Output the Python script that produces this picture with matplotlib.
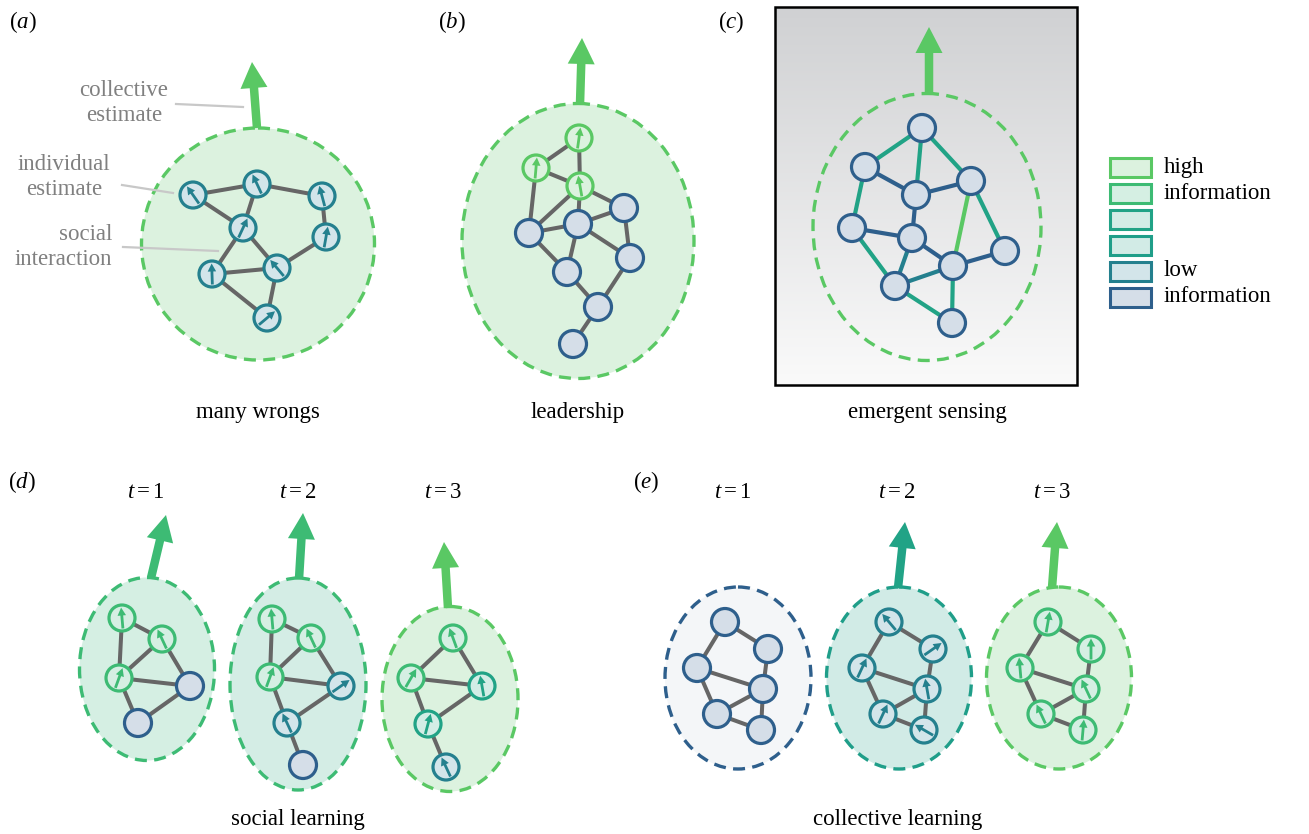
import numpy as np
import matplotlib
matplotlib.use('Agg')
import matplotlib.pyplot as plt
from matplotlib.patches import Ellipse, FancyArrow, Rectangle, Circle
from matplotlib.colors import LinearSegmentedColormap

plt.rcParams['font.family'] = 'Liberation Serif'
plt.rcParams['mathtext.fontset'] = 'custom'
plt.rcParams['mathtext.rm'] = 'Liberation Serif'
plt.rcParams['mathtext.it'] = 'Liberation Serif:italic'

# colours (information level, high -> low)
HI = '#5ac864'
GR = '#3dbb74'
TG = '#21a386'
TE = '#1f9e89'
TB = '#24808e'
BL = '#2e5f8c'
FILL = {HI: '#dcf2df', GR: '#d5efe3', TG: '#d3ede6', TE: '#d2ebe6',
        TB: '#d3e5ea', BL: '#d5dee8'}
EDGE_GREY = '#666666'

# ---- panel (a) many wrongs
a_nodes = [(193, 195), (257, 184), (322, 196), (243, 228), (326, 237),
           (212, 274), (277, 268), (267, 318)]
a_edges = [(0, 1), (1, 2), (0, 3), (1, 3), (2, 4), (3, 5), (3, 6), (5, 6),
           (4, 6), (5, 7), (6, 7)]
a_dirs = [125, 115, 105, 65, 80, 92, 130, 40]
a_cols = [TB] * 8

# ---- panel (b) leadership
b_nodes = [(579, 138), (536, 168), (580, 186), (624, 208), (529, 233),
           (578, 224), (630, 258), (567, 272), (598, 307), (573, 344)]
b_edges = [(0, 1), (0, 2), (1, 2), (1, 4), (2, 4), (2, 5), (2, 3), (4, 5),
           (5, 3), (3, 6), (5, 6), (4, 7), (5, 7), (7, 8), (6, 8), (8, 9)]
b_dirs = [82, 85, 100, None, None, None, None, None, None, None]
b_cols = [HI, HI, HI] + [BL] * 7

# ---- panel (c) emergent sensing
c_nodes = [(922, 128), (865, 167), (971, 181), (916, 195), (852, 228),
           (912, 238), (1005, 251), (953, 266), (895, 286), (952, 323)]
c_edges = [(0, 1), (0, 3), (0, 2), (1, 3), (3, 2), (1, 4), (3, 5), (2, 7),
           (2, 6), (4, 5), (4, 8), (5, 8), (5, 7), (7, 6), (8, 7), (8, 9),
           (7, 9)]
c_edge_cols = [TG, TG, TG, BL, BL, TG, BL, HI, TG, BL, TG, TB, BL, BL, TB,
               TG, TG]

# ---- panel (d) social learning, three time steps
d_nodes = [[(122, 618), (162, 639), (119, 678), (190, 686), (138, 723)],
           [(272, 619), (311, 638), (270, 677), (341, 686), (287, 723),
            (303, 765)],
           [(453, 638), (411, 678), (482, 686), (428, 724), (446, 767)]]
d_edges = [[(0, 1), (0, 2), (1, 2), (2, 3), (1, 3), (2, 4), (3, 4)],
           [(0, 1), (0, 2), (1, 2), (1, 3), (2, 3), (2, 4), (3, 4), (4, 5)],
           [(0, 1), (0, 2), (1, 2), (1, 3), (2, 3), (3, 4)]]
d_dirs = [[95, 115, 70, None, None],
          [95, 115, 70, 35, 115, None],
          [110, 60, 100, 75, 115]]
d_cols = [[GR, GR, GR, BL, BL],
          [GR, GR, GR, TB, TB, BL],
          [GR, GR, TG, TG, TB]]

# ---- panel (e) collective learning, same network at three time steps
e_nodes = [[(725, 622), (768, 649), (697, 668), (763, 689), (717, 714),
            (761, 730)],
           [(889, 622), (933, 649), (862, 668), (927, 689), (883, 714),
            (924, 730)],
           [(1048, 622), (1091, 649), (1020, 668), (1086, 689), (1041, 714),
            (1083, 730)]]
e_edges = [(0, 1), (0, 2), (1, 3), (2, 3), (2, 4), (4, 3), (4, 5), (3, 5)]
e_dirs = [[None] * 6,
          [130, 35, 65, 100, 65, 150],
          [80, 90, 95, 115, 115, 85]]
e_cols = [[BL] * 6, [TB] * 6, [GR] * 6]

# ---- group outlines: centre, width, height, edge colour, fill, arrow
groups = [
    ((258, 244), 233, 232, HI, '#dcf2df', (257, 128), (252, 62), HI),
    ((578, 241), 232, 275, HI, '#dcf2df', (580, 104), (582, 38), HI),
    ((927, 227), 228, 267, HI, None, (929, 93), (929, 27), HI),
    ((147, 669), 135, 183, GR, '#d5efe3', (151, 578), (166, 515), GR),
    ((298, 684), 136, 212, GR, '#d4ede5', (299, 579), (303, 513), GR),
    ((450, 699), 136, 185, HI, '#dcf2df', (448, 608), (444, 542), HI),
    ((738, 678), 146, 182, BL, '#f4f6f8', None, None, None),
    ((899, 678), 145, 182, TE, '#d1ebe6', (898, 588), (905, 522), TG),
    ((1059, 678), 145, 182, HI, '#dcf2df', (1052, 588), (1057, 522), HI),
]

legend_cols = [HI, GR, TG, TE, TB, BL]
legend_text = ['high', 'information', '', '', 'low', 'information']

captions = ['many wrongs', 'leadership', 'emergent sensing',
            'social learning', 'collective learning']
caption_xy = [(258, 412), (578, 412), (927, 412), (298, 820), (898, 820)]
panel_labels = ['a', 'b', 'c', 'd', 'e']
panel_xy = [(23, 22), (452, 22), (731, 22), (22, 482), (646, 482)]
t_labels = ['1', '2', '3', '1', '2', '3']
t_x = [146, 298, 443, 733, 897, 1052]


def draw_network(ax, nodes, edges, dirs, cols, edge_cols=None, lw=2.9):
  for k, (i, j) in enumerate(edges):
    c = EDGE_GREY if edge_cols is None else edge_cols[k]
    ax.plot([nodes[i][0], nodes[j][0]], [nodes[i][1], nodes[j][1]],
            color=c, lw=lw, zorder=3, solid_capstyle='butt')
  for (x, y), d, c in zip(nodes, dirs, cols):
    r = 13.5 if c == BL else 13
    ax.add_patch(Circle((x, y), r, facecolor=FILL[c], edgecolor=c, lw=2.3,
                        zorder=4))
    if d is not None:
      L = 21
      ux, uy = np.cos(np.radians(d)), -np.sin(np.radians(d))
      ax.add_patch(FancyArrow(x - ux * L / 2, y - uy * L / 2, ux * L, uy * L,
                              width=2.8, head_width=8.5, head_length=8,
                              length_includes_head=True, color=c, lw=0,
                              zorder=5))


fig = plt.figure(figsize=(13.09, 8.34), dpi=100)
ax = fig.add_axes([0, 0, 1, 1])

# gradient background of panel (c)
grad = LinearSegmentedColormap.from_list('g', ['#d0d1d3', '#fafafa'])
ax.imshow(np.linspace(0, 1, 200).reshape(-1, 1), cmap=grad, aspect='auto',
          extent=[775, 1077, 385, 7], zorder=0)
ax.add_patch(Rectangle((775, 7), 302, 378, fill=False, edgecolor='black',
                       lw=1.8, zorder=1))

for (cx, cy), w, h, ec, fc, base, tip, acol in groups:
  if fc is not None:
    ax.add_patch(Ellipse((cx, cy), w, h, facecolor=fc, edgecolor='none',
                         zorder=1))
  ax.add_patch(Ellipse((cx, cy), w, h, facecolor='none', edgecolor=ec,
                       lw=2.4, ls=(0, (3.6, 2.2)), zorder=2))
  if base is not None:
    ax.add_patch(FancyArrow(base[0], base[1], tip[0] - base[0],
                            tip[1] - base[1], width=8.5, head_width=27,
                            head_length=26, length_includes_head=True,
                            color=acol, lw=0, zorder=2))

draw_network(ax, a_nodes, a_edges, a_dirs, a_cols)
draw_network(ax, b_nodes, b_edges, b_dirs, b_cols)
draw_network(ax, c_nodes, c_edges, [None] * 10, [BL] * 10, c_edge_cols,
             lw=3.0)
for k in range(3):
  draw_network(ax, d_nodes[k], d_edges[k], d_dirs[k], d_cols[k])
  draw_network(ax, e_nodes[k], e_edges, e_dirs[k], e_cols[k])

# annotations in panel (a)
ann_col = '#808080'
ax.text(124, 103, 'collective\nestimate', ha='center', va='center',
        color=ann_col, fontsize=16.5, linespacing=1.2)
ax.text(64, 177, 'individual\nestimate', ha='center', va='center',
        color=ann_col, fontsize=16.5, linespacing=1.2)
ax.text(112, 247, 'social\ninteraction', ha='right', va='center',
        color=ann_col, fontsize=16.5, linespacing=1.2,
        multialignment='right')
for (x0, y0), (x1, y1) in [((176, 104), (243, 107)), ((122, 185), (173, 193)),
                           ((123, 247), (218, 251))]:
  ax.plot([x0, x1], [y0, y1], color='#c8c8c8', lw=1.6, zorder=6)

# legend
for k, c in enumerate(legend_cols):
  yc = 167 + 26 * k
  ax.add_patch(Rectangle((1110, yc - 9.5), 41, 19, facecolor=FILL[c],
                         edgecolor=c, lw=2.2, zorder=2))
  if legend_text[k]:
    ax.text(1164, yc, legend_text[k], ha='left', va='center', fontsize=16.5)

for txt, (x, y) in zip(captions, caption_xy):
  ax.text(x, y, txt, ha='center', va='center', fontsize=16.5)
for lab, (x, y) in zip(panel_labels, panel_xy):
  ax.text(x, y, r'$\mathrm{(}%s\mathrm{)}$' % lab, ha='center', va='center',
          fontsize=16.5)
for lab, x in zip(t_labels, t_x):
  ax.text(x, 492, r'$t = %s$' % lab, ha='center', va='center', fontsize=16.5)

ax.set_xlim(0, 1309)
ax.set_ylim(834, 0)
ax.axis('off')
fig.savefig('out.png', dpi=100)
